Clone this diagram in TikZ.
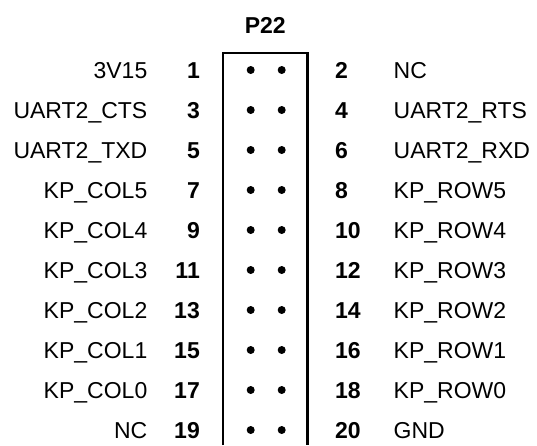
\documentclass[tikz,border=0pt]{standalone}
\usepackage{fontspec}
\setmainfont{Liberation Sans}
\usetikzlibrary{positioning}

\begin{document}
\begin{tikzpicture}[
    x=1pt, y=-1pt,
    signame/.style={inner sep=0pt, font=\fontsize{23}{27}\selectfont},
    pinnum/.style={inner sep=0pt, font=\fontsize{23}{27}\selectfont\bfseries},
    pindot/.style={circle, fill=black, inner sep=0pt, minimum size=8pt},
    header/.style={line width=2.2pt}
]
    \useasboundingbox (0,0) rectangle (537,445);

    % Connector name
    \node[pinnum, anchor=base] (title) at (265.3,33.3) {P22};

    % Header outline, open at the bottom
    \coordinate (hdr_bl) at (223.3,445);
    \coordinate (hdr_tl) at (223.3,53);
    \coordinate (hdr_tr) at (307.5,53);
    \coordinate (hdr_br) at (307.5,445);
    \draw[header] (hdr_bl) -- (hdr_tl) -- (hdr_tr) -- (hdr_br);

    % Pin rows: odd pins on the left, even pins on the right
    \foreach \row/\lsig/\rsig in {
        1/3V15/NC,
        2/UART2\_CTS/UART2\_RTS,
        3/UART2\_TXD/UART2\_RXD,
        4/KP\_COL5/KP\_ROW5,
        5/KP\_COL4/KP\_ROW4,
        6/KP\_COL3/KP\_ROW3,
        7/KP\_COL2/KP\_ROW2,
        8/KP\_COL1/KP\_ROW1,
        9/KP\_COL0/KP\_ROW0,
        10/NC/GND} {
        \pgfmathsetmacro{\ypos}{30+40*\row}
        \pgfmathtruncatemacro{\odd}{2*\row-1}
        \pgfmathtruncatemacro{\even}{2*\row}
        \node[pindot] (dot\odd) at (250.7,\ypos) {};
        \node[pindot] (dot\even) at (281.7,\ypos) {};
        \node[pinnum, anchor=base east] (pin\odd) at (200,\ypos+8.3) {\odd};
        \node[pinnum, anchor=base west] (pin\even) at (335,\ypos+8.3) {\even};
        \node[signame, anchor=base east] (sig\odd) at (147.5,\ypos+8.3) {\lsig};
        \node[signame, anchor=base west] (sig\even) at (393.5,\ypos+8.3) {\rsig};
    }
\end{tikzpicture}
\end{document}
